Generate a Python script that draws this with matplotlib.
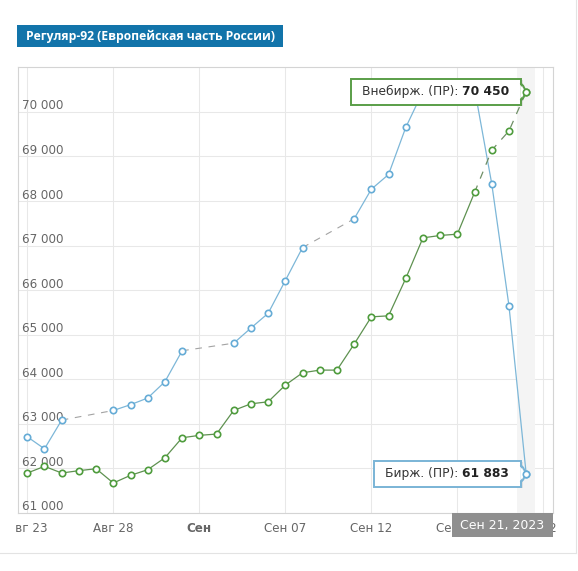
import matplotlib
matplotlib.use("Agg")
from matplotlib import pyplot as plt
import matplotlib.dates as mdates
from matplotlib.patches import Rectangle, Polygon
from matplotlib.lines import Line2D
from matplotlib.transforms import IdentityTransform, Bbox

plt.rcParams['font.family'] = ['DejaVu Sans']

title = "Регуляр-92 (Европейская часть России)"

# биржевые цены (нет торгов в выходные)
exch_dates = ["2023-08-23", "2023-08-24", "2023-08-25", "2023-08-28", "2023-08-29",
              "2023-08-30", "2023-08-31", "2023-09-01", "2023-09-04", "2023-09-05",
              "2023-09-06", "2023-09-07", "2023-09-08", "2023-09-11", "2023-09-12",
              "2023-09-13", "2023-09-14", "2023-09-15", "2023-09-18", "2023-09-19",
              "2023-09-20", "2023-09-21"]
exch_vals = [62710, 62440, 63085, 63300, 63430, 63580, 63945, 64640, 64810, 65150,
             65480, 66215, 66955, 67600, 68265, 68595, 69650, 70460, 70520, 68385,
             65650, 61883]

# внебиржевые цены
otc_dates = ["2023-08-23", "2023-08-24", "2023-08-25", "2023-08-26", "2023-08-27",
             "2023-08-28", "2023-08-29", "2023-08-30", "2023-08-31", "2023-09-01",
             "2023-09-02", "2023-09-03", "2023-09-04", "2023-09-05", "2023-09-06",
             "2023-09-07", "2023-09-08", "2023-09-09", "2023-09-10", "2023-09-11",
             "2023-09-12", "2023-09-13", "2023-09-14", "2023-09-15", "2023-09-16",
             "2023-09-17", "2023-09-18", "2023-09-19", "2023-09-20", "2023-09-21"]
otc_vals = [61897, 62047, 61897, 61950, 61993, 61673, 61845, 61971, 62240, 62688,
            62742, 62771, 63302, 63450, 63495, 63870, 64146, 64206, 64206, 64789,
            65401, 65424, 66262, 67173, 67227, 67256, 68191, 69139, 69572, 70450]
otc_dash_from = "2023-09-18"

xtick_dates = ["2023-08-23", "2023-08-28", "2023-09-02", "2023-09-07",
               "2023-09-12", "2023-09-17", "2023-09-22"]
xtick_labels = ["Авг 23", "Авг 28", "Сен", "Сен 07", "Сен 12", "Сен 17", "Сен 22"]
ytick_vals = [61000, 62000, 63000, 64000, 65000, 66000, 67000, 68000, 69000, 70000]
ytick_labels = ["61 000", "62 000", "63 000", "64 000", "65 000",
                "66 000", "67 000", "68 000", "69 000", "70 000"]

sel_date = "2023-09-21"
sel_label = "Сен 21, 2023"
exch_name = "Бирж. (ПР): "
otc_name = "Внебирж. (ПР): "

blue = '#66acd6'
blue_line = '#7db7d8'
green = '#4f9c3d'
green_line = '#5e9150'
gap_color = '#a3a3a3'

W, H = 578, 571
fig = plt.figure(figsize=(W / 100, H / 100), dpi=100)
ax = fig.add_axes([18 / W, 1 - 513 / H, (553 - 18) / W, (513 - 67.3) / H])

xe = mdates.datestr2num(exch_dates)
xo = mdates.datestr2num(otc_dates)
xt = mdates.datestr2num(xtick_dates)
xs = mdates.datestr2num(sel_date)

ax.set_xlim(xt[0] - 0.54, xt[-1] + 0.56)
ax.set_ylim(61000, 71000)

ax.axvspan(xs - 0.52, xs + 0.52, color='#f4f4f4', zorder=0.6, lw=0)

# биржа: пунктир через выходные
for i in range(len(xe) - 1):
    if xe[i + 1] - xe[i] > 1:
        ax.plot(xe[i:i + 2], exch_vals[i:i + 2], color=gap_color, lw=0.8,
                dashes=(6, 6), zorder=3)
    else:
        ax.plot(xe[i:i + 2], exch_vals[i:i + 2], color=blue_line, lw=0.9, zorder=3)
ax.plot(xe, exch_vals, 'o', ms=4.6, mfc='white', mec=blue, mew=1.2, zorder=4)

xd = mdates.datestr2num(otc_dash_from)
solid = [i for i in range(len(xo)) if xo[i] <= xd]
dash = [i for i in range(len(xo)) if xo[i] >= xd]
ax.plot([xo[i] for i in solid], [otc_vals[i] for i in solid], color=green_line,
        lw=0.9, zorder=3)
ax.plot([xo[i] for i in dash], [otc_vals[i] for i in dash], color='#6f8f66',
        lw=0.9, dashes=(6, 6), zorder=3)
ax.plot(xo, otc_vals, 'o', ms=4.6, mfc='white', mec=green, mew=1.2, zorder=4)

ax.set_xticks(xt)
ax.set_xticklabels(xtick_labels)
ax.set_yticks(ytick_vals)
ax.set_yticklabels([])
ax.tick_params(axis='both', length=0)
ax.tick_params(axis='x', pad=6.5, labelsize=8.6, labelcolor='#666666')
ax.grid(color='#e8e8e8', lw=0.75)
ax.set_axisbelow(True)
for s in ax.spines.values():
    s.set_color('#d4d4d4')
    s.set_linewidth(0.8)

clip = Bbox.from_extents(15, 0, 556, H)
for i, lbl in enumerate(ax.get_xticklabels()):
    lbl.set_clip_on(True)
    lbl.set_clip_box(clip)
    if i == 2:
        lbl.set_fontweight('bold')

for v, s in zip(ytick_vals, ytick_labels):
    ax.annotate(s, xy=(0, v), xycoords=('axes fraction', 'data'), xytext=(4.5, 6),
                textcoords='offset pixels', va='center', ha='left',
                fontsize=8.6, color='#666666', zorder=2)

# заголовок
pix = IdentityTransform()
fig.patches.append(Rectangle((17.3, H - 46.7), 265.4, 21.7, transform=pix,
                             facecolor='#1274aa', edgecolor='none'))
fig.text(151, H - 36, title, transform=pix, ha='center', va='center',
         color='white', fontsize=8.7, fontweight='bold', family=['Open Sans'])

# рамка контейнера
fig.lines.append(Line2D([0, 576], [H - 553, H - 553], transform=pix,
                        color='#e3e3e3', lw=0.8))
fig.lines.append(Line2D([576, 576], [H - 553, H], transform=pix,
                        color='#e3e3e3', lw=0.8))

renderer = fig.canvas.get_renderer()


def tooltip(x, y, name, value, edge, marker_color):
    px, py = ax.transData.transform((x, y))
    right = px - 5
    t2 = ax.text(right - 12, py, value, transform=pix, ha='right', va='center',
                 fontsize=8.8, fontweight='bold', color='#222222', zorder=11,
                 clip_on=False)
    w2 = t2.get_window_extent(renderer).width
    t1 = ax.text(right - 12 - w2, py, name, transform=pix, ha='right',
                 va='center', fontsize=8.8, color='#333333', zorder=11,
                 clip_on=False)
    left = t1.get_window_extent(renderer).x0 - 11
    # тень
    ax.add_patch(Rectangle((left + 1.5, py - 14.5), right - left, 26, transform=pix,
                           facecolor='#000000', alpha=0.08, edgecolor='none',
                           zorder=8.5, clip_on=False))
    ax.add_patch(Rectangle((left, py - 13), right - left, 26, transform=pix,
                           facecolor='white', edgecolor=edge, lw=1.4,
                           zorder=9, clip_on=False))
    ax.add_patch(Polygon([(right - 1, py + 7), (px, py), (right - 1, py - 7)],
                         closed=True, transform=pix, facecolor='white',
                         edgecolor='none', zorder=9.5, clip_on=False))
    ax.add_line(Line2D([right, right + 2, px, right + 2, right],
                       [py + 8, py + 6, py, py - 6, py - 8], transform=pix,
                       color=edge, lw=1.4, zorder=9.6, clip_on=False))
    ax.plot([x], [y], 'o', ms=4.6, mfc='white', mec=marker_color, mew=1.2,
            zorder=12, clip_on=False)


tooltip(xo[-1], otc_vals[-1], otc_name, f"{otc_vals[-1]:,}".replace(",", " "),
        '#5a9e48', green)
tooltip(xe[-1], exch_vals[-1], exch_name, f"{exch_vals[-1]:,}".replace(",", " "),
        '#7ab4d6', blue)

# подпись перекрестия
sx, _ = ax.transData.transform((xs, 61000))
bb = ax.get_window_extent(renderer)
bw, bh = 101, 24.3
cx = min(sx, bb.x1 - bw / 2)
ax.add_patch(Rectangle((cx - bw / 2, bb.y0 - bh), bw, bh, transform=pix,
                       facecolor='#8f8f8f', edgecolor='none', zorder=10,
                       clip_on=False))
ax.text(cx, bb.y0 - bh / 2, sel_label, transform=pix, ha='center',
        va='center', color='white', fontsize=9, zorder=11, clip_on=False)

fig.savefig("out.png", dpi=100)
